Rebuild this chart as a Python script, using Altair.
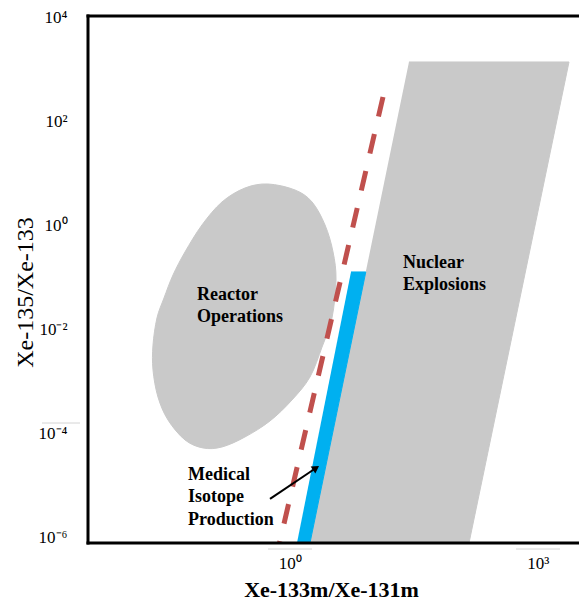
import altair as alt
import pandas as pd

# ---- data (log10 of isotopic activity ratios) ----
# x = log10(Xe-133m/Xe-131m), y = log10(Xe-135/Xe-133)
REACTOR_X = [-0.264, 0.063, 0.269, 0.426, 0.523, 0.559, 0.510, 0.390, 0.244, 0.027, -0.239, -0.542, -0.820,
             -1.049, -1.267, -1.473, -1.594, -1.654, -1.654, -1.606, -1.521, -1.412, -1.267, -1.062, -0.820, -0.542]
REACTOR_Y = [0.794, 0.679, 0.449, 0.007, -0.511, -1.049, -1.779, -2.336, -2.912, -3.353, -3.756, -4.064, -4.256,
             -4.275, -4.121, -3.737, -3.296, -2.777, -2.297, -1.779, -1.395, -0.953, -0.511, 0.007, 0.449, 0.717]

EXPLOSION_X = [1.441, 3.376, 2.167, 0.244]
EXPLOSION_Y = [3.137, 3.137, -6.1, -6.1]

MEDICAL_X = [0.740, 0.919, 0.244, 0.087]
MEDICAL_Y = [-0.895, -0.895, -6.1, -6.1]

SCREEN_LINE_X = [1.127, -0.130]
SCREEN_LINE_Y = [2.465, -6.14]

ARROW_X = [-0.239, 0.317]
ARROW_Y = [-5.254, -4.659]

LABELS = ["Reactor\nOperations", "Nuclear\nExplosions", "Medical\nIsotope\nProduction"]
LABEL_X = [-1.122, 1.369, -1.231]
LABEL_Y = [-1.337, -0.723, -4.793]

X_TICKS = [0, 3]
X_TICK_LABELS = ["10⁰", "10³"]
Y_TICKS = [4, 2, 0, -2, -4, -6]
Y_TICK_LABELS = ["10⁴", "10²", "10⁰", "10⁻²", "10⁻⁴", "10⁻⁶"]

X_DOMAIN = [-2.44, 3.497]
Y_DOMAIN = [-6.1, 4.02]

SERIF = "Liberation Serif"
W, H = 491, 527


def label_expr(ticks, labels):
    expr = "''"
    for t, l in zip(reversed(ticks), reversed(labels)):
        expr = f"datum.value == {t} ? '{l}' : ({expr})"
    return expr


x_axis = alt.Axis(values=X_TICKS, labelExpr=label_expr(X_TICKS, X_TICK_LABELS),
                  labelFont=SERIF, labelFontSize=17, labelColor="black", labelPadding=12,
                  ticks=False, domain=False, grid=False,
                  title="Xe-133m/Xe-131m", titleFont=SERIF, titleFontSize=22,
                  titleFontWeight="bold", titleColor="black", titleX=243, titleY=53,
                  titleAlign="center", titleBaseline="alphabetic", labelFlush=False)
y_axis = alt.Axis(values=Y_TICKS, labelExpr=label_expr(Y_TICKS, Y_TICK_LABELS),
                  labelFont=SERIF, labelFontSize=17, labelColor="black", labelPadding=21,
                  ticks=False, domain=False, grid=False,
                  title="Xe-135/Xe-133", titleFont=SERIF, titleFontSize=24,
                  titleFontWeight="normal", titleColor="black", titleX=-63, titleY=276,
                  titleAngle=-90, titleAlign="center", titleBaseline="middle", labelFlush=False)

X = alt.X("x:Q", scale=alt.Scale(domain=X_DOMAIN, nice=False, zero=False), axis=x_axis)
Y = alt.Y("y:Q", scale=alt.Scale(domain=Y_DOMAIN, nice=False, zero=False), axis=y_axis)


def poly(xs, ys):
    return pd.DataFrame({"x": xs, "y": ys, "i": list(range(len(xs)))})


gray = "#c9c9c9"

reactor = alt.Chart(poly(REACTOR_X, REACTOR_Y)).mark_line(
    interpolate="cardinal-closed", fill=gray, stroke=gray, strokeWidth=1
).encode(x=X, y=Y, order="i:Q")

explosion = alt.Chart(poly(EXPLOSION_X, EXPLOSION_Y)).mark_line(
    fill=gray, stroke=gray, strokeWidth=1, clip=True
).encode(x=X, y=Y, order="i:Q")

medical = alt.Chart(poly(MEDICAL_X, MEDICAL_Y)).mark_line(
    fill="#00b0f0", stroke="#00b0f0", strokeWidth=1, clip=True
).encode(x=X, y=Y, order="i:Q")

screen = alt.Chart(poly(SCREEN_LINE_X, SCREEN_LINE_Y)).mark_line(
    color="#c0504d", strokeWidth=5, strokeDash=[20, 18], clip=True
).encode(x=X, y=Y, order="i:Q")

arrow_line = alt.Chart(poly(ARROW_X, ARROW_Y)).mark_line(
    color="black", strokeWidth=2
).encode(x=X, y=Y, order="i:Q")

arrow_head = alt.Chart(pd.DataFrame({"x": ARROW_X[1:], "y": ARROW_Y[1:]})).mark_point(
    shape="triangle-up", filled=True, color="black", opacity=1, size=70, angle=56
).encode(x=X, y=Y)

texts = alt.Chart(pd.DataFrame({"x": LABEL_X, "y": LABEL_Y, "t": LABELS})).mark_text(
    align="left", baseline="middle", lineBreak="\n", lineHeight=22.5,
    font=SERIF, fontWeight="bold", fontSize=18, color="black"
).encode(x=X, y=Y, text="t:N")

deco = alt.Chart(pd.DataFrame({"a": [0]}))
faint = deco.mark_rule(color="#d4d4d4", strokeWidth=1)
faint1 = faint.encode(x=alt.value(180), x2=alt.value(224), y=alt.value(533))
faint2 = faint.encode(x=alt.value(428), x2=alt.value(472), y=alt.value(533))
faint3 = faint.encode(x=alt.value(-46), x2=alt.value(-8), y=alt.value(407))

frame = deco.mark_rule(color="black", strokeWidth=3, strokeCap="square")
frame_left = frame.encode(x=alt.value(0), y=alt.value(0), y2=alt.value(H))
frame_top = frame.encode(x=alt.value(0), x2=alt.value(W + 2), y=alt.value(0))
frame_bottom = frame.encode(x=alt.value(0), x2=alt.value(W + 2), y=alt.value(H))

chart = alt.layer(
    reactor, explosion, medical, screen, arrow_line, arrow_head, texts,
    faint1, faint2, faint3, frame_left, frame_top, frame_bottom
).properties(
    width=W, height=H,
    autosize=alt.AutoSizeParams(type="none"),
    padding={"left": 80, "top": 8, "right": 0, "bottom": 59},
).configure_view(stroke=None)

chart.save("out.html", embed_options={"renderer": "svg", "actions": False})
